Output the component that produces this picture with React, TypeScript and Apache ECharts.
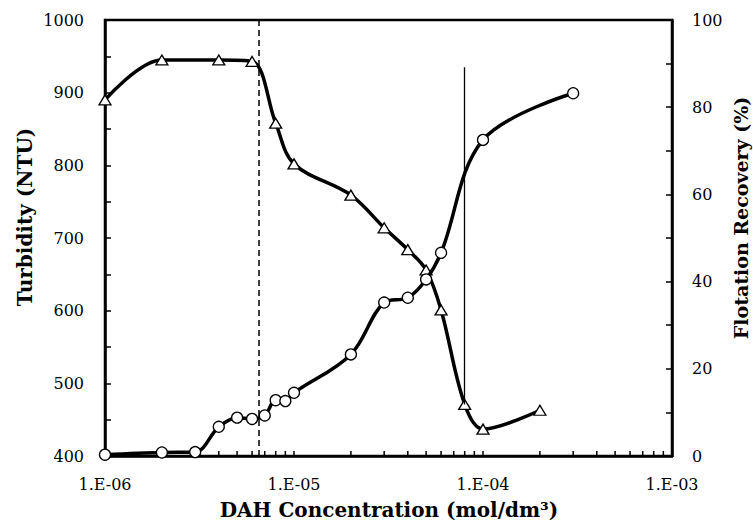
import React, { useEffect, useRef } from "react";
import * as echarts from "echarts";

const conc = [1e-6, 2e-6, 4e-6, 6e-6, 8e-6, 1e-5, 2e-5, 3e-5, 4e-5, 5e-5, 6e-5, 8e-5, 1e-4, 2e-4];
const turbidity = [890, 945, 945, 943, 858, 802, 759, 714, 684, 656, 601, 471, 437, 463];

const recConc = [1e-6, 2e-6, 3e-6, 4e-6, 5e-6, 6e-6, 7e-6, 8e-6, 9e-6, 1e-5, 2e-5, 3e-5, 4e-5, 5e-5, 6e-5, 1e-4, 3e-4];
const recovery = [0.3, 0.8, 0.9, 6.7, 8.8, 8.5, 9.3, 12.8, 12.6, 14.5, 23.3, 35.2, 36.3, 40.5, 46.6, 72.5, 83.2];

const minorTicks = [
  2e-6, 3e-6, 4e-6, 5e-6, 6e-6, 7e-6, 8e-6, 9e-6,
  2e-5, 3e-5, 4e-5, 5e-5, 6e-5, 7e-5, 8e-5, 9e-5,
  2e-4, 3e-4, 4e-4, 5e-4, 6e-4, 7e-4, 8e-4, 9e-4,
];

const dashedLine = { x: 6.5e-6, bottom: 0, top: 100 };
const solidLine = { x: 8e-5, top: 935, bottom: 471 };

const FONT = '"DejaVu Serif", serif';

export default function App() {
  const ref = useRef<HTMLDivElement>(null);
  useEffect(() => {
    if (!ref.current) return;
    const chart = echarts.init(ref.current, undefined, { renderer: "svg" });
    const fmtX = (v: number) => {
      const e = Math.round(Math.log10(v));
      const abs = Math.abs(e);
      return "1.E" + (e < 0 ? "-" : "+") + (abs < 10 ? "0" : "") + abs;
    };
    chart.setOption({
      animation: false,
      backgroundColor: "#fff",
      grid: {
        left: 105, right: 81, top: 20, bottom: 68,
        show: true, borderColor: "#000", borderWidth: 2.5,
      },
      xAxis: {
        type: "log", logBase: 10, min: 1e-6, max: 1e-3, interval: 1,
        axisLine: { lineStyle: { color: "#000", width: 2.5 } },
        axisTick: { inside: true, length: 5, lineStyle: { color: "#000", width: 1.5 } },
        splitLine: { show: false },
        axisLabel: { color: "#000", fontFamily: FONT, fontSize: 16, margin: 20, formatter: fmtX },
      },
      yAxis: [
        {
          type: "value", min: 400, max: 1000, interval: 50,
          axisLine: { show: true, lineStyle: { color: "#000", width: 2.5 } },
          axisTick: { show: true, inside: true, length: 6, lineStyle: { color: "#000", width: 1.5 } },
          splitLine: { show: false },
          axisLabel: {
            color: "#000", fontFamily: FONT, fontSize: 16, margin: 21,
            formatter: (v: number) => (v % 100 === 0 ? String(v) : ""),
          },
        },
        {
          type: "value", min: 0, max: 100, interval: 10, position: "right",
          axisLine: { show: true, lineStyle: { color: "#000", width: 2.5 } },
          axisTick: { show: true, inside: true, length: 6, lineStyle: { color: "#000", width: 1.5 } },
          splitLine: { show: false },
          axisLabel: {
            color: "#000", fontFamily: FONT, fontSize: 16, margin: 20,
            formatter: (v: number) => (v % 20 === 0 ? String(v) : ""),
          },
        },
      ],
      graphic: [
        {
          type: "text", x: 25, y: 217, rotation: Math.PI / 2,
          style: { text: "Turbidity (NTU)", font: `bold 20px ${FONT}`, fill: "#000", align: "center", verticalAlign: "middle" },
        },
        {
          type: "text", x: 741, y: 218, rotation: Math.PI / 2,
          style: { text: "Flotation Recovery (%)", font: `bold 19px ${FONT}`, fill: "#000", align: "center", verticalAlign: "middle" },
        },
        {
          type: "text", x: 389, y: 510,
          style: { text: "DAH Concentration (mol/dm³)", font: `bold 20px ${FONT}`, fill: "#000", align: "center", verticalAlign: "middle" },
        },
      ],
      series: [
        {
          type: "custom",
          xAxisIndex: 0, yAxisIndex: 0,
          silent: true,
          data: minorTicks.map((v) => [v, 400]),
          renderItem: (params: any, api: any) => {
            const p = api.coord([api.value(0), api.value(1)]);
            return {
              type: "line",
              shape: { x1: p[0], y1: p[1], x2: p[0], y2: p[1] - 5 },
              style: { stroke: "#000", lineWidth: 1.5 },
            };
          },
          z: 1,
        },
        {
          type: "line",
          name: "Turbidity",
          yAxisIndex: 0,
          data: conc.map((c, i) => [c, turbidity[i]]),
          smooth: 0.35,
          symbol: "triangle",
          symbolSize: [12, 10],
          showAllSymbol: true,
          lineStyle: { color: "#000", width: 3.5 },
          itemStyle: { color: "#fff", borderColor: "#000", borderWidth: 1.3 },
          z: 3,
          markLine: {
            silent: true,
            symbol: "none",
            label: { show: false },
            data: [
              [
                { coord: [solidLine.x, solidLine.top] },
                { coord: [solidLine.x, solidLine.bottom] },
              ],
            ],
            lineStyle: { color: "#000", width: 1.3, type: "solid" },
          },
        },
        {
          type: "line",
          name: "Recovery",
          yAxisIndex: 1,
          data: recConc.map((c, i) => [c, recovery[i]]),
          smooth: 0.35,
          symbol: "circle",
          symbolSize: 11,
          showAllSymbol: true,
          lineStyle: { color: "#000", width: 3.5 },
          itemStyle: { color: "#fff", borderColor: "#000", borderWidth: 1.3 },
          z: 4,
          markLine: {
            silent: true,
            symbol: "none",
            label: { show: false },
            data: [
              [
                { coord: [dashedLine.x, dashedLine.bottom] },
                { coord: [dashedLine.x, dashedLine.top] },
              ],
            ],
            lineStyle: { color: "#000", width: 1.5, type: [6, 4] },
          },
        },
      ],
    });
    return () => chart.dispose();
  }, []);
  return <div ref={ref} style={{ width: 753, height: 524, position: "absolute", left: 0, top: 0 }} />;
}
